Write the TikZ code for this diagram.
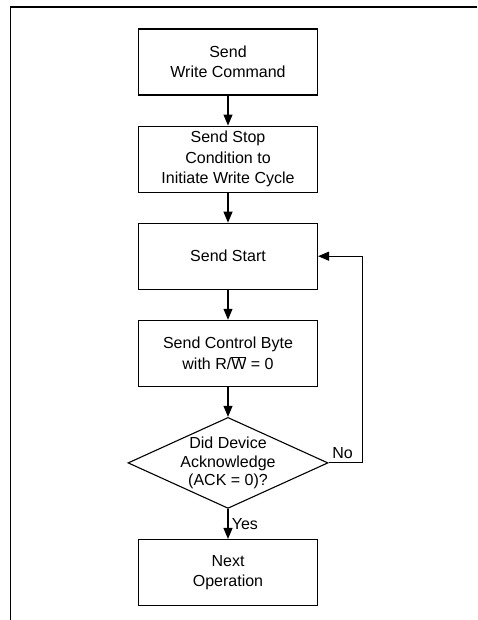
\documentclass[tikz,border=0pt]{standalone}
\usepackage{fontspec}
\setmainfont{Liberation Sans}
\usetikzlibrary{arrows.meta,shapes.geometric}

\begin{document}
\begin{tikzpicture}[
      x=1pt, y=-1pt,
      desc/.style={
        rectangle,
        draw=black,
        line width=1.1pt,
        align=center,
        minimum width=179pt,
        minimum height=66pt,
        font=\fontsize{16}{20.5}\selectfont
      },
      decide/.style={
        diamond,
        draw=black,
        line width=1.1pt,
        inner sep=0pt,
        minimum width=200pt,
        minimum height=91pt
      },
      tag/.style={
        font=\fontsize{16}{20}\selectfont
      },
      flow/.style={
        line width=1.1pt,
        -{Triangle[length=11pt,width=9pt]}
      }
    ]

    \useasboundingbox (0,0) rectangle (477,620);
    \draw [line width=1.5pt] (477,7) -- (10.5,7) -- (10.5,620);

    \node [desc] (WriteCmd) at (228,62) {Send\\Write Command};
    \node [desc, anchor=north, yshift=-30pt] (StopCond) at (WriteCmd.south) {Send Stop\\Condition to\\Initiate Write Cycle};
    \node [desc, anchor=north, yshift=-30pt] (StartCond) at (StopCond.south) {Send Start};
    \node [desc, anchor=north, yshift=-30pt] (CtrlByte) at (StartCond.south) {Send Control Byte\\with R/$\overline{\mbox{W}}$ = 0};
    \node [decide, anchor=north, yshift=-30pt,
      label={[tag, align=center, font=\fontsize{16}{18.5}\selectfont]center:Did Device\\Acknowledge\\(ACK = 0)?}] (AckCheck) at (CtrlByte.south) {};
    \node [desc, anchor=north, yshift=-30pt] (NextOp) at (AckCheck.south) {Next\\Operation};

    \draw [flow] (WriteCmd) -- (StopCond);
    \draw [flow] (StopCond) -- (StartCond);
    \draw [flow] (StartCond) -- (CtrlByte);
    \draw [flow] (CtrlByte) -- (AckCheck);
    \draw [flow] (AckCheck) -- node [tag, right] {Yes} (NextOp);
    \draw [flow] (AckCheck.east) -- ++(34,0) node [tag, midway, above, xshift=-3pt] {No} |- (StartCond.east);

    \end{tikzpicture}
\end{document}
